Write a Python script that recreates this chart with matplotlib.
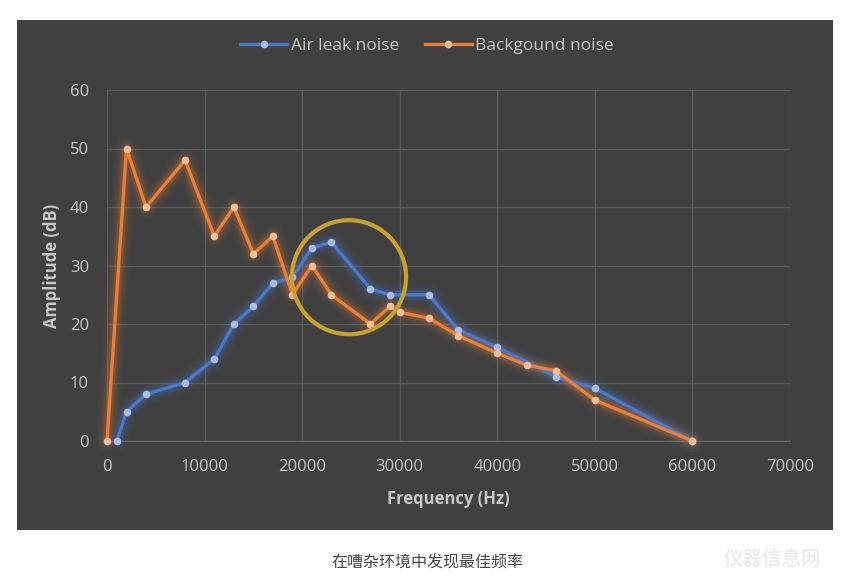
import numpy as np
import matplotlib
matplotlib.use("Agg")
import matplotlib.pyplot as plt
from matplotlib.patches import Rectangle, Ellipse

plt.rcParams['font.family'] = ['Open Sans', 'Noto Sans CJK SC', 'DejaVu Sans']

# 数据
air_freq = [1000, 2000, 4000, 8000, 11000, 13000, 15000, 17000, 19000, 21000, 23000,
            27000, 29000, 33000, 36000, 40000, 46000, 50000, 60000]
air_amp = [0, 5, 8, 10, 14, 20, 23, 27, 28, 33, 34,
           26, 25, 25, 19, 16, 11, 9, 0]

bg_freq = [0, 2000, 4000, 8000, 11000, 13000, 15000, 17000, 19000, 21000, 23000,
           27000, 29000, 30000, 33000, 36000, 40000, 43000, 46000, 50000, 60000]
bg_amp = [0, 50, 40, 48, 35, 40, 32, 35, 25, 30, 25,
          20, 23, 22, 21, 18, 15, 13, 12, 7, 0]

x_ticks = [0, 10000, 20000, 30000, 40000, 50000, 60000, 70000]
y_ticks = [0, 10, 20, 30, 40, 50, 60]

blue = '#4a78cc'
orange = '#ea7f35'
txt = '#c8c8c8'
bg = '#404040'

fig = plt.figure(figsize=(8.54, 5.88), dpi=100)
fig.patch.set_facecolor('white')
fig.patches.append(Rectangle((17 / 854, 1 - 530 / 588), 816 / 854, 510 / 588,
                             transform=fig.transFigure, facecolor=bg,
                             edgecolor='none', zorder=-10))

ax = fig.add_axes([107 / 854, 1 - 441 / 588, 683 / 854, 351 / 588])
ax.set_zorder(5)
ax.patch.set_alpha(0)

def glow_line(x, y, color, mfc, label):
    # 发光效果
    for lw, a in [(16, 0.04), (12, 0.06), (9, 0.09), (6, 0.16)]:
        ax.plot(x, y, color=color, lw=lw, alpha=a, solid_capstyle='round',
                solid_joinstyle='round', zorder=2, clip_on=False)
    ax.plot(x, y, color=color, lw=2.4, zorder=3, label=label, clip_on=False,
            marker='o', markersize=5.5, markerfacecolor=mfc,
            markeredgecolor=mfc, markeredgewidth=0)

glow_line(air_freq, air_amp, blue, '#a8bde6', 'Air leak noise')
glow_line(bg_freq, bg_amp, orange, '#f4bf98', 'Backgound noise')

circ = Ellipse((24800, 28), 11700, 19.5, fill=False, edgecolor='#c9a22b',
               lw=3, zorder=4)
ax.add_patch(circ)

ax.set_xlim(0, 70000)
ax.set_ylim(0, 60)
ax.set_xticks(x_ticks)
ax.set_yticks(y_ticks)
ax.grid(True, color='#5a5a5a', lw=1)
ax.set_axisbelow(True)
for s in ['top', 'right', 'left']:
    ax.spines[s].set_visible(False)
ax.spines['bottom'].set_color('#6a6a6a')
ax.tick_params(length=0, colors=txt, labelsize=12, pad=13)
ax.set_xlabel('Frequency (Hz)', color=txt, fontsize=12, fontweight='bold', labelpad=11)
ax.set_ylabel('Amplitude (dB)', color=txt, fontsize=12, fontweight='bold', labelpad=6)

leg = fig.legend(*ax.get_legend_handles_labels(), loc='center',
                 bbox_to_anchor=(0.5, 1 - 46 / 588), ncol=2, frameon=False,
                 fontsize=12.5, labelcolor=txt, handlelength=2.7, columnspacing=1.5,
                 handletextpad=0.2)

fig.text(0.5, 1 - 563 / 588, '在嘈杂环境中发现最佳频率', ha='center', va='center',
         fontsize=11.5, color='#444444', style='italic',
         family=['Noto Sans CJK SC', 'DejaVu Sans'])
fig.text(0.905, 1 - 560 / 588, '仪器信息网', ha='center', va='center',
         fontsize=14, color='#ececec', fontweight='bold',
         family=['Noto Sans CJK SC', 'DejaVu Sans'])

fig.savefig('out.png', dpi=100)
